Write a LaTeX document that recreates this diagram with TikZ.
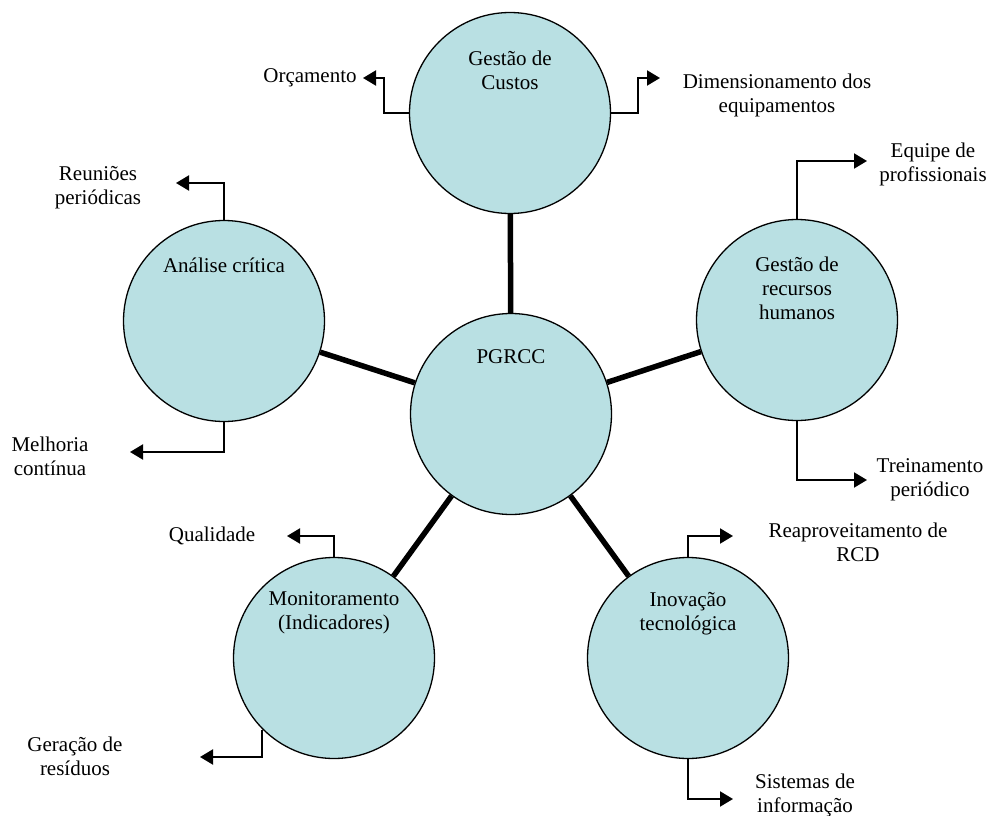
\documentclass[tikz,border=0pt]{standalone}
\usepackage{fontspec}
\setmainfont{Liberation Serif}
\usepackage{tikz}
\usetikzlibrary{arrows.meta}

\definecolor{circfill}{RGB}{185,224,227}

\begin{document}
\begin{tikzpicture}[x=1pt,y=-1pt,
  bubble/.style={circle,draw=black,line width=1.3pt,fill=circfill,minimum size=201pt,inner sep=0pt},
  spoke/.style={line width=5.5pt},
  branch/.style={line width=2pt,-{Triangle[length=13pt,width=15pt]}},
  txt/.style={font=\fontsize{21}{24}\selectfont,align=center,inner sep=0pt}]
\useasboundingbox (0,0) rectangle (1002,816);
% Circles: (name, x, y)
\foreach \nm/\x/\y in {custos/510/113, pgrcc/511/414, rh/797/320,
  analise/224/321, monit/334/658, inov/688/658}{%
  \node[bubble] (\nm) at (\x,\y) {};
}
% Spokes from the hub
\foreach \nm in {custos,rh,analise,monit,inov}{%
  \draw[spoke] (pgrcc) -- (\nm);
}
% Texts inside the circles
\node[txt] (tcustos)  at (510,70)  {Gestão de\\Custos};
\node[txt] (tpgrcc)   at (511,357) {PGRCC};
\node[txt] (trh)      at (797,288) {Gestão de\\recursos\\humanos};
\node[txt] (tanalise) at (224,265) {Análise crítica};
\node[txt] (tmonit)   at (334,613) {Monitoramento\\(Indicadores)};
\node[txt] (tinov)    at (688,614) {Inovação\\tecnológica};
% Outer labels
\node[txt] (orc)   at (310,78)  {Orçamento};
\node[txt] (dim)   at (777,95)  {Dimensionamento dos\\equipamentos};
\node[txt] (equ)   at (933,164) {Equipe de\\profissionais};
\node[txt] (trein) at (930,480) {Treinamento\\periódico};
\node[txt] (reun)  at (98,188)  {Reuniões\\periódicas};
\node[txt] (melh)  at (50,456)  {Melhoria\\contínua};
\node[txt] (qual)  at (212,536) {Qualidade};
\node[txt] (ger)   at (75,756)  {Geração de\\resíduos};
\node[txt] (reap)  at (858,542) {Reaproveitamento de\\RCD};
\node[txt] (sist)  at (805,795) {Sistemas de\\informação};
% Arrow tips
\coordinate (aorc)   at (363,78);
\coordinate (adim)   at (660,78);
\coordinate (aequ)   at (867,161);
\coordinate (atrein) at (867,480);
\coordinate (areun)  at (176,183);
\coordinate (amelh)  at (130,452);
\coordinate (aqual)  at (287,536);
\coordinate (ager)   at (200,757);
\coordinate (areap)  at (733,536);
\coordinate (asist)  at (733,799);
% Branches
\draw[branch] (custos.west) -- ++(-25,0) |- (aorc);
\draw[branch] (custos.east) -- ++(27,0) |- (adim);
\draw[branch] (rh.north) |- (aequ);
\draw[branch] (rh.south) |- (atrein);
\draw[branch] (analise.north) |- (areun);
\draw[branch] (analise.south) |- (amelh);
\draw[branch] (monit.north) |- (aqual);
\draw[branch] (monit.225) |- (ager);
\draw[branch] (inov.north) |- (areap);
\draw[branch] (inov.south) |- (asist);
\end{tikzpicture}
\end{document}
